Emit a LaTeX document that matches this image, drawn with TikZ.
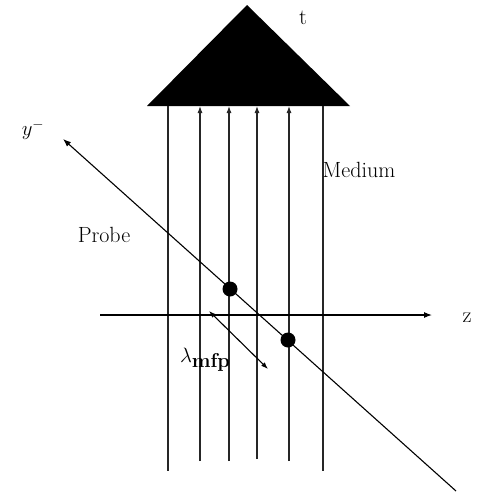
\documentclass[tikz,border=0pt]{standalone}
\usepackage{amsmath,amssymb}
\usepackage{xcolor}
\usepackage{tikz}
\usetikzlibrary{positioning,arrows.meta,calc}
\tikzset{
  beam/.style={line width=1.1pt, draw=black!85},
  beamarr/.style={beam, -{Latex[length=7pt,width=5pt]}},
  probeline/.style={line width=1.1pt, -{Latex[length=8pt,width=6pt]}},
  mfparr/.style={line width=1.1pt, {Latex[length=7pt,width=5pt]}-{Latex[length=7pt,width=5pt]}},
  hit/.style={circle, fill=black, inner sep=0pt, minimum size=15pt},
  lbl/.style={font=\fontsize{22}{26}\selectfont, inner sep=1pt}
}

\begin{document}
\begin{tikzpicture}[x=1pt,y=-1pt]
\useasboundingbox (0,0) rectangle (483,493);
% target
\coordinate (apex) at (247,5);
\coordinate (bl) at (147,106);
\coordinate (br) at (350,106);
\fill (bl) -- (apex) -- (br) -- cycle;
\node[lbl] (t) at (303,18) {t};
% medium
\draw[beam] (168,106) -- (168,471);
\draw[beam] (323,106) -- (323,471);
\foreach \x/\b in {200/461, 229/461, 257/459, 289/461}{
  \coordinate (lo\x) at (\x,\b);
  \coordinate (hi\x) at (\x,106);
  \draw[beamarr] (lo\x) -- (hi\x);
}
\node[lbl] (med) at (359,170) {Medium};
% z axis
\coordinate (zl) at (100,315);
\coordinate (zr) at (432,315);
\draw[probeline] (zl) -- (zr);
\node[lbl] (z) at (467,318) {z};
% probe
\coordinate (pend) at (456,491);
\coordinate (ptip) at (63,139);
\draw[probeline] (pend) -- (ptip);
\node[lbl] (ylab) at (33,130) {$y^{-}$};
\node[lbl] (probe) at (104,235) {Probe};
\node[hit] (h1) at (230,289) {};
\node[hit] (h2) at (288,340) {};
% mean free path
\coordinate (m1) at (209,311);
\coordinate (m2) at (268,369);
\draw[mfparr] (m1) -- (m2);
\node[lbl, font=\fontsize{20}{24}\selectfont] (lam) at (205,360) {$\lambda$\raisebox{-5pt}{\bfseries mfp}};
\end{tikzpicture}
\end{document}
